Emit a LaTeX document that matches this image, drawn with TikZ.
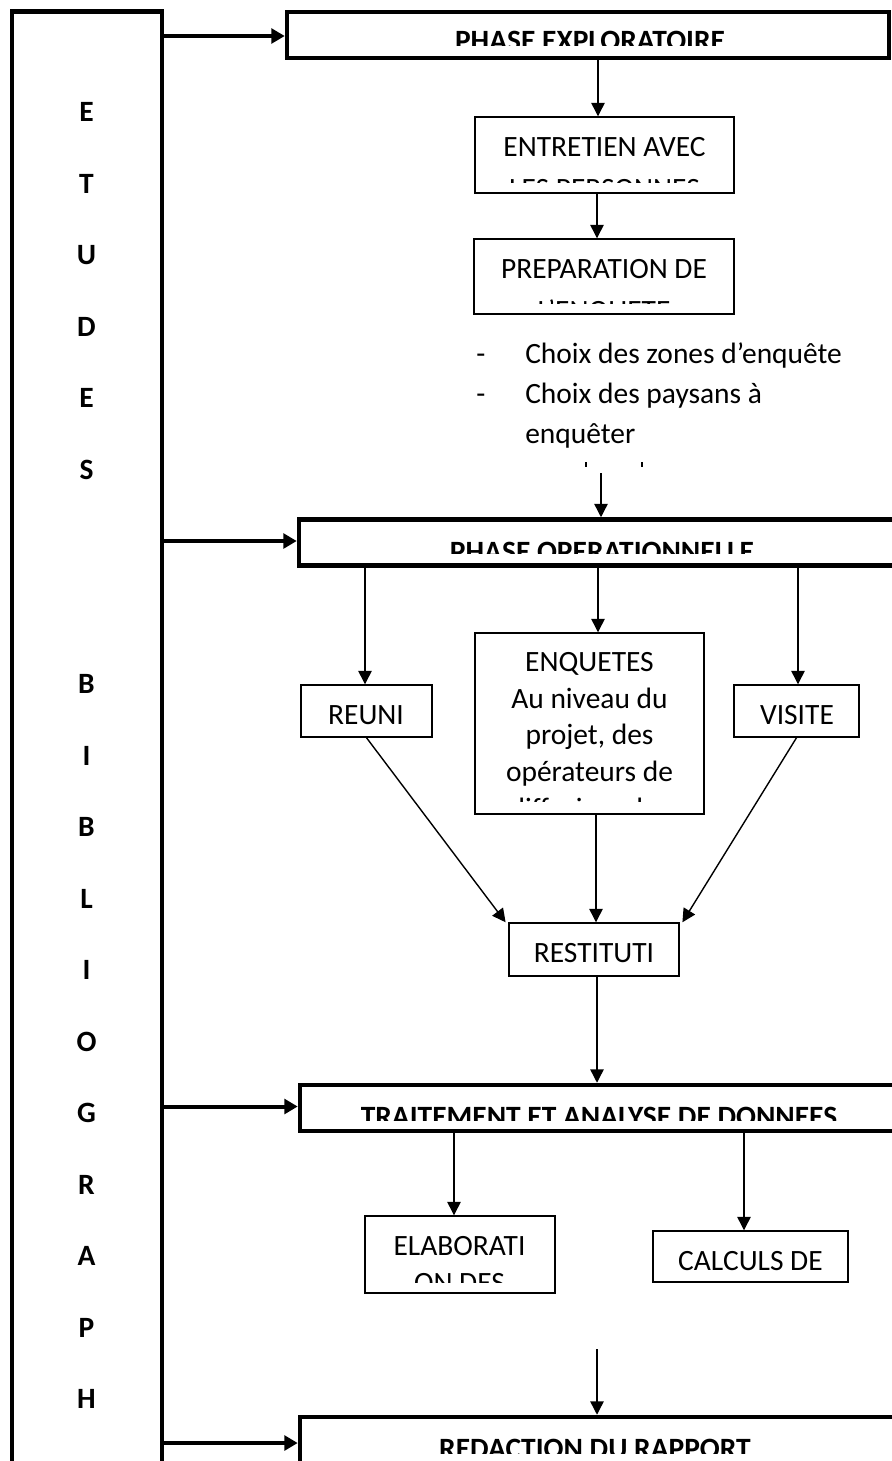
\documentclass[tikz,border=0pt]{standalone}
\usepackage{fontspec}
\setmainfont{Carlito}
\usetikzlibrary{arrows.meta,fit}
\newcommand\bodyfont{\fontsize{22.1}{26}\selectfont}
\begin{document}
\begin{tikzpicture}[x=0.75pt,y=-0.75pt,
  thinbox/.style={draw, line width=1.1pt, inner sep=0pt, fill=white},
  thickbox/.style={draw, line width=3.4pt, inner sep=0pt, fill=white},
  arr/.style={line width=1.05pt, -{Triangle[length=10pt,width=10pt]}},
  thickarr/.style={line width=3pt, -{Triangle[length=10pt,width=11pt]}},
  txt/.style={inner sep=0pt, anchor=base, font=\bodyfont},
  hd/.style={inner sep=0pt, anchor=base, font=\bodyfont\bfseries},
]
\clip (0,0) rectangle (892,1461);
\fill[white] (0,0) rectangle (892,1461);

% left column
\node[thickbox, fit={(12,11.5) (162,1530)}] (lb) {};
\foreach \ch [count=\i] in {E,T,U,D,E,S}
  \node[hd] (la\i) at (86.5,{121.5+71.5*(\i-1)}) {\ch};
\foreach \ch [count=\i from 9] in {B,I,B,L,I,O,G,R,A,P,H}
  \node[hd] (lb\i) at (86.5,{121.5+71.5*(\i-1)}) {\ch};

% phase boxes
\node[thickbox, fit={(287,12) (889,58)}] (ph1) {};
\node[thickbox, fit={(299,519.5) (960,565.5)}] (ph2) {};
\node[thickbox, fit={(300,1085) (960,1131)}] (ph3) {};
\node[thickbox, fit={(300,1417) (960,1530)}] (ph4) {};

\begin{scope}
  \clip (290,14) rectangle (886,45);
  \node[hd] (ph1t) at (590,50.9) {PHASE EXPLORATOIRE};
\end{scope}
\begin{scope}
  \clip (302,522) rectangle (892,553);
  \node[hd] (ph2t) at (602,561.9) {PHASE OPERATIONNELLE};
\end{scope}
\begin{scope}
  \clip (303,1088) rectangle (892,1120);
  \node[hd] (ph3t) at (599,1126.9) {TRAITEMENT ET ANALYSE DE DONNEES};
\end{scope}
\begin{scope}
  \clip (303,1420) rectangle (892,1453);
  \node[hd] (ph4t) at (595,1458.9) {REDACTION DU RAPPORT};
\end{scope}

% thin boxes
\node[thinbox, fit={(475,117) (734,193)}] (ent) {};
\node[thinbox, fit={(474,239) (734,314)}] (prep) {};
\node[thinbox, fit={(301,685) (432,737)}] (reu) {};
\node[thinbox, fit={(475,633) (704,814)}] (enq) {};
\node[thinbox, fit={(734,685) (859,737)}] (vis) {};
\node[thinbox, fit={(509,923) (679,976)}] (rest) {};
\node[thinbox, fit={(365,1216) (555,1293)}] (elab) {};
\node[thinbox, fit={(653,1231) (848,1282)}] (calc) {};

\begin{scope}
  \clip (476,118) rectangle (733,182);
  \node[txt] (ent1) at (604.5,156.5) {ENTRETIEN AVEC};
  \node[txt] (ent2) at (604.5,198) {LES PERSONNES};
\end{scope}
\begin{scope}
  \clip (475,240) rectangle (733,303);
  \node[txt] (prep1) at (604,278.5) {PREPARATION DE};
  \node[txt] (prep2) at (604,320) {L’ENQUETE};
\end{scope}
\begin{scope}
  \clip (476,634) rectangle (703,801);
  \node[txt] (enq1) at (589.5,671.5) {ENQUETES};
  \node[txt] (enq2) at (589.5,708) {Au niveau du};
  \node[txt] (enq3) at (589.5,744.5) {projet, des};
  \node[txt] (enq4) at (589.5,781) {opérateurs de};
  \node[txt] (enq5) at (589.5,818) {diffusion, des};
\end{scope}
\begin{scope}
  \clip (366,1217) rectangle (554,1282);
  \node[txt] (elab1) at (459.5,1255.5) {ELABORATI};
  \node[txt] (elab2) at (459.5,1292) {ON DES};
\end{scope}
\node[txt] (reut) at (366,724.5) {REUNI};
\node[txt] (vist) at (797,724.5) {VISITE};
\node[txt] (restt) at (594,962.5) {RESTITUTI};
\node[txt] (calct) at (750.5,1270.5) {CALCULS DE};

% bullet list
\node[txt] (d1) at (481,363) {-};
\node[txt] (d2) at (481,403) {-};
\node[txt, anchor=base west] (b1) at (525,363) {Choix des zones d’enquête};
\node[txt, anchor=base west] (b2) at (525,403) {Choix des paysans à};
\node[txt, anchor=base west] (b3) at (525,443) {enquêter};
\draw[line width=1.1pt] (586,462) -- (586,467);
\draw[line width=1.1pt] (642,462) -- (642,467);

% helper coordinates
\coordinate (x365) at (365,0);
\coordinate (x454) at (454,0);
\coordinate (x596) at (596,0);
\coordinate (x597) at (597,0);
\coordinate (x598) at (598,0);
\coordinate (x601) at (601,0);
\coordinate (x744) at (744,0);
\coordinate (x798) at (798,0);
\coordinate (s1) at (601,473);
\coordinate (s2) at (597,1349);
\coordinate (y1) at (0,36);
\coordinate (y2) at (0,541);
\coordinate (y3) at (0,1106.5);
\coordinate (y4) at (0,1443);

% thick arrows from left column
\draw[thickarr] (lb.east |- y1) -- (ph1.west |- y1);
\draw[thickarr] (lb.east |- y2) -- (ph2.west |- y2);
\draw[thickarr] (lb.east |- y3) -- (ph3.west |- y3);
\draw[thickarr] (lb.east |- y4) -- (ph4.west |- y4);

% thin arrows
\draw[arr] (ph1.south -| x598) -- (ent.north -| x598);
\draw[arr] (ent.south -| x597) -- (prep.north -| x597);
\draw[arr] (s1) -- (ph2.north -| s1);
\draw[arr] (ph2.south -| x365) -- (reu.north -| x365);
\draw[arr] (ph2.south -| x598) -- (enq.north -| x598);
\draw[arr] (ph2.south -| x798) -- (vis.north -| x798);
\draw[arr] (reu.south) -- ([xshift=-2pt]rest.north west);
\draw[arr] (enq.south -| x596) -- (rest.north -| x596);
\draw[arr] (vis.south) -- ([xshift=2pt]rest.north east);
\draw[arr] (rest.south -| x597) -- (ph3.north -| x597);
\draw[arr] (ph3.south -| x454) -- (elab.north -| x454);
\draw[arr] (ph3.south -| x744) -- (calc.north -| x744);
\draw[arr] (s2) -- (ph4.north -| s2);
\end{tikzpicture}
\end{document}
